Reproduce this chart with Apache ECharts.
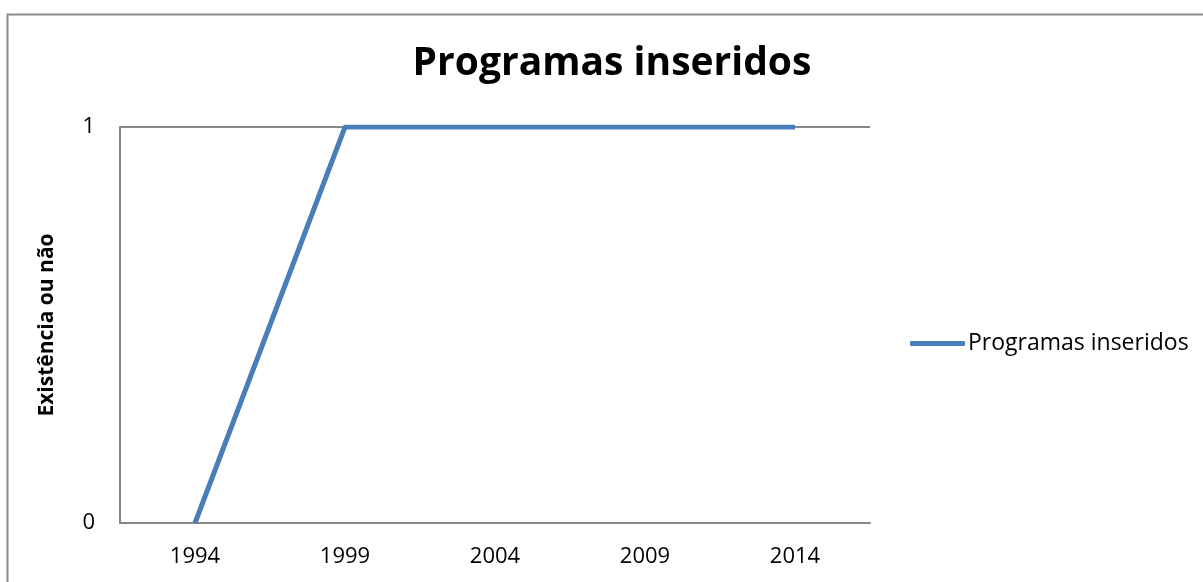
<!DOCTYPE html>
<html>
<head>
<meta charset="utf-8">
<script src="https://cdn.jsdelivr.net/npm/echarts@6/dist/echarts.min.js"></script>
<style>
  html, body { margin: 0; padding: 0; background: #fff; }
  #chart { width: 1203px; height: 582px; }
</style>
</head>
<body>
<div id="chart"></div>
<script>
  // dados do gráfico
  var years = ['1994', '1999', '2004', '2009', '2014'];
  var programas = [0, 1, 1, 1, 1];
  var seriesName = 'Programas inseridos';

  var chart = echarts.init(document.getElementById('chart'));
  var font = "'Open Sans', 'Liberation Sans', sans-serif";

  chart.setOption({
    animation: false,
    textStyle: { fontFamily: font },
    graphic: [{
      type: 'rect',
      shape: { x: 7.5, y: 14.5, width: 1400, height: 800 },
      style: { fill: 'none', stroke: '#8c8c8c', lineWidth: 2 },
      silent: true
    }],
    title: {
      text: 'Programas inseridos',
      left: 612,
      top: 44,
      padding: 0,
      textAlign: 'center',
      textStyle: { fontSize: 39, fontWeight: 'bold', color: '#000', fontFamily: font }
    },
    legend: {
      data: [seriesName],
      left: 910,
      top: 332,
      padding: 0,
      icon: 'roundRect',
      itemWidth: 55,
      itemHeight: 5,
      textStyle: { fontSize: 23, color: '#000', fontFamily: font, padding: [0, 0, 0, -2] }
    },
    grid: {
      left: 120,
      right: 333,
      top: 127,
      bottom: 59,
      containLabel: false
    },
    xAxis: {
      type: 'category',
      data: years,
      boundaryGap: true,
      axisLine: { lineStyle: { color: '#868686', width: 2 } },
      axisTick: { show: false },
      axisLabel: { color: '#000', fontSize: 22, margin: 23, fontFamily: font }
    },
    yAxis: {
      type: 'value',
      min: 0,
      max: 1,
      interval: 1,
      name: 'Existência ou não',
      nameLocation: 'middle',
      nameGap: 62,
      nameTextStyle: { fontSize: 21, fontWeight: 'bold', color: '#000', fontFamily: font },
      axisLine: { show: true, lineStyle: { color: '#868686', width: 2 } },
      axisTick: { show: false },
      axisLabel: { color: '#000', fontSize: 22, margin: 25, fontFamily: font },
      splitLine: { show: true, lineStyle: { color: '#868686', width: 2 } }
    },
    series: [{
      name: seriesName,
      type: 'line',
      data: programas,
      symbol: 'none',
      lineStyle: { color: '#4a7ebb', width: 5 },
      itemStyle: { color: '#4a7ebb' }
    }]
  });
</script>
</body>
</html>
